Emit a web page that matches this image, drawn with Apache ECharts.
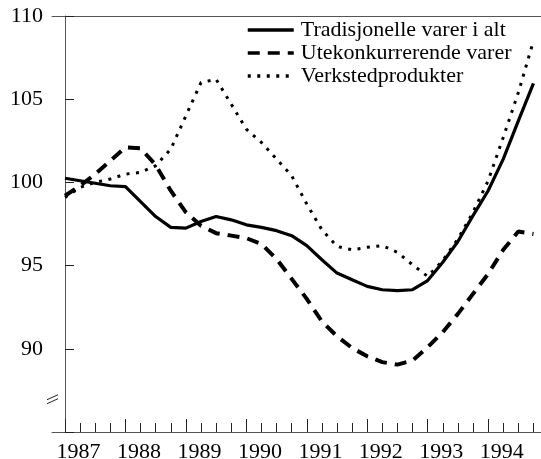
<!DOCTYPE html>
<html>
<head>
<meta charset="utf-8">
<script src="https://cdn.jsdelivr.net/npm/echarts@6/dist/echarts.min.js"></script>
<style>
html,body{margin:0;padding:0;background:#fff;}
#chart{width:541px;height:459px;}
</style>
</head>
<body>
<div id="chart"></div>
<script>
// Tick labels (years; quarterly observations 1987K1 .. 1994K4)
const years = ['1987','1988','1989','1990','1991','1992','1993','1994'];
const seriesNames = ['Tradisjonelle varer i alt','Utekonkurrerende varer','Verkstedprodukter'];

// Series values, one per quarter
const tradisjonelle = [100.25,100.1,99.95,99.8,99.75,98.85,97.95,97.3,97.25,97.65,97.95,97.75,97.45,97.3,97.1,96.8,
                       96.2,95.35,94.55,94.15,93.75,93.55,93.5,93.55,94.1,95.2,96.45,98.0,99.5,101.4,103.7,105.95];
const utekonkurrerende = [99.2,99.8,100.5,101.3,102.1,102.05,101.05,99.5,98.2,97.4,96.95,96.8,96.65,96.3,95.4,94.2,
                          93.0,91.65,90.75,90.05,89.55,89.2,89.05,89.3,90.1,91.0,92.1,93.3,94.5,95.95,97.05,96.9];
const verksted = [99.1,99.7,100.0,100.2,100.5,100.6,101.0,102.0,104.0,106.0,106.2,104.7,103.2,102.4,101.4,100.4,
                  98.7,97.15,96.15,95.95,96.1,96.2,95.8,95.05,94.35,95.3,96.6,98.2,100.1,102.7,105.4,108.5];

const FONT = 'Liberation Serif';
const toPairs = arr => arr.map((v, i) => [i, v]);
const nQ = tradisjonelle.length;
const quarterTicks = Array.from({length: nQ}, (_, i) => i);
const yearTicks = years.map((_, k) => k * 4);
const labelPos = years.map((_, k) => k * 4 + 0.9);

const chart = echarts.init(document.getElementById('chart'), null, {renderer: 'canvas'});
const axisColor = '#555';

chart.setOption({
  animation: false,
  backgroundColor: '#fff',
  color: ['#000', '#000', '#000'],
  textStyle: {fontFamily: FONT},
  grid: {left: 52, right: 0, top: 16, bottom: 27, containLabel: false, outerBoundsMode: 'none'},
  legend: {
    orient: 'vertical',
    left: 246, top: 19,
    padding: 0,
    itemWidth: 46, itemHeight: 14, itemGap: 1,
    textStyle: {fontFamily: FONT, fontSize: 22, color: '#000', lineHeight: 22, padding: [0,0,0,2]},
    lineStyle: {width: 3.5},
    itemStyle: {color: 'rgba(0,0,0,0)', borderWidth: 0, opacity: 0},
    data: seriesNames
  },
  xAxis: [
    {
      type: 'value', min: -0.86, max: 31.5, position: 'bottom',
      axisLine: {show: true, lineStyle: {color: axisColor, width: 1}},
      axisTick: {show: true, inside: true, length: 13, customValues: yearTicks, lineStyle: {color: '#222', width: 1}},
      axisLabel: {
        show: true, customValues: labelPos, margin: 9,
        fontFamily: FONT, fontSize: 22, color: '#000',
        formatter: v => years[Math.round((v - 0.9) / 4)] || ''
      },
      splitLine: {show: false}
    },
    {
      type: 'value', min: -0.86, max: 31.5, position: 'bottom',
      axisLine: {show: false},
      axisTick: {show: true, inside: true, length: 9, customValues: quarterTicks, lineStyle: {color: '#222', width: 1}},
      axisLabel: {show: false},
      splitLine: {show: false}
    },
    {
      type: 'value', min: -0.86, max: 31.5, position: 'top',
      axisLine: {show: true, lineStyle: {color: axisColor, width: 1}},
      axisTick: {show: false}, axisLabel: {show: false}, splitLine: {show: false}
    }
  ],
  yAxis: {
    type: 'value', min: 85, max: 110, interval: 5,
    axisLine: {show: true, lineStyle: {color: axisColor, width: 1}},
    axisTick: {show: true, inside: true, length: 9, lineStyle: {color: '#222', width: 1}},
    axisLabel: {
      margin: 9, fontFamily: FONT, fontSize: 22, color: '#000',
      formatter: v => (v === 85 ? '' : String(v))
    },
    splitLine: {show: false}
  },
  series: [
    {
      name: seriesNames[0], type: 'line', xAxisIndex: 0, data: toPairs(tradisjonelle),
      symbol: 'none', itemStyle: {color: '#000'}, lineStyle: {color: '#000', width: 3.2, type: 'solid'}
    },
    {
      name: seriesNames[1], type: 'line', xAxisIndex: 0, data: toPairs(utekonkurrerende),
      symbol: 'none', itemStyle: {color: '#000'}, lineStyle: {color: '#000', width: 4, type: [12, 8], cap: 'butt'}
    },
    {
      name: seriesNames[2], type: 'line', xAxisIndex: 0, data: toPairs(verksted),
      symbol: 'none', itemStyle: {color: '#000'}, lineStyle: {color: '#000', width: 3, type: [3, 6.5], cap: 'butt'}
    }
  ]
});

// Axis-break mark on the y axis (decoration), positioned through the axis scale
const breakVal = 87;
const p = chart.convertToPixel({xAxisIndex: 0, yAxisIndex: 0}, [-0.86, breakVal]);
const bx = p[0], by = p[1];
chart.setOption({
  graphic: [
    {type: 'line', shape: {x1: bx - 5, y1: by + 5, x2: bx + 6, y2: by}, style: {stroke: '#222', lineWidth: 1}},
    {type: 'line', shape: {x1: bx - 5, y1: by + 1, x2: bx + 6, y2: by - 4}, style: {stroke: '#222', lineWidth: 1}}
  ]
});
</script>
</body>
</html>
